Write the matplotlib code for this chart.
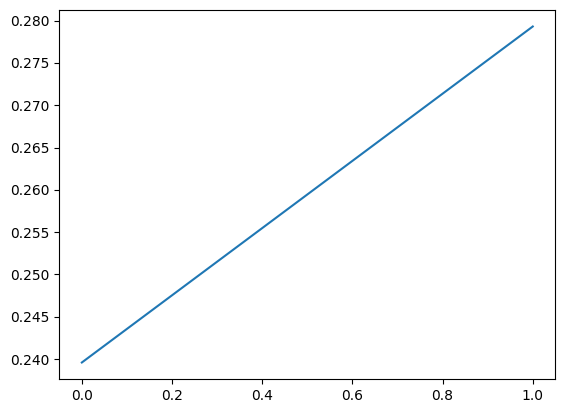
import matplotlib
matplotlib.use("Agg")
import matplotlib.pyplot as plt

x_values = [0.0, 1.0]
y_values = [0.2396, 0.2793]

fig = plt.figure(figsize=(5.65, 4.13), dpi=100)
ax = fig.add_axes([59.3 / 565, (413 - 379.3) / 413, 496 / 565, 369.6 / 413])
ax.plot(x_values, y_values)
fig.savefig("out.png", dpi=100)
